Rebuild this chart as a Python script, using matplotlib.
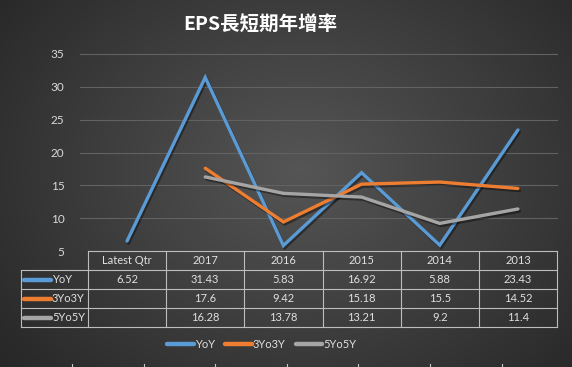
import numpy as np
import matplotlib
matplotlib.use("Agg")
import matplotlib.pyplot as plt
import matplotlib.patheffects as pe
from matplotlib.lines import Line2D

plt.rcParams['font.family'] = ['Lato', 'DejaVu Sans']

categories = ['Latest Qtr', '2017', '2016', '2015', '2014', '2013']
yoy = [6.52, 31.43, 5.83, 16.92, 5.88, 23.43]
yo3 = [None, 17.6, 9.42, 15.18, 15.5, 14.52]
yo5 = [None, 16.28, 13.78, 13.21, 9.2, 11.4]
series_names = ['YoY', '3Yo3Y', '5Yo5Y']
series_colors = ['#5B9BD5', '#ED7D31', '#A5A5A5']
yticks = [5, 10, 15, 20, 25, 30, 35]
title = 'EPS長短期年增率'

W, H = 572, 367
fig = plt.figure(figsize=(W / 100, H / 100), dpi=100)

# background: dark radial gradient
bg = fig.add_axes([0, 0, 1, 1])
yy, xx = np.mgrid[0:H, 0:W]
r = np.sqrt(((xx - 300) / 340.0) ** 2 + ((yy - 170) / 270.0) ** 2)
shade = np.clip(0.335 - 0.16 * r, 0.15, 0.335)
bg.imshow(np.dstack([shade] * 3), extent=[0, W, H, 0], aspect='auto')
bg.set_xlim(0, W)
bg.set_ylim(H, 0)
bg.axis('off')

# bottom strip ticks (worksheet behind)
for xt in np.arange(72, W, 71.6):
    bg.plot([xt, xt], [364, 367], color='#c8c8c8', lw=0.8)

# plot area
left, right, top, bottom = 88, 557, 54, 251
ax = fig.add_axes([left / W, 1 - bottom / H, (right - left) / W, (bottom - top) / H])
ax.patch.set_alpha(0)
n = len(categories)
x = np.arange(n)
ax.set_xlim(-0.5, n - 0.5)
ax.set_ylim(5, 35)
ax.set_yticks(yticks)
ax.tick_params(axis='y', length=0, pad=17, labelcolor='#d9d9d9', labelsize=8.5)
ax.set_xticks([])
for s in ax.spines.values():
    s.set_visible(False)
xl = -0.5 - 8 / ((right - left) / n)
for t in yticks[1:]:
    ax.plot([xl, n - 0.5], [t, t], color='#626262', lw=0.8, clip_on=False, zorder=1)

shadow = [pe.SimpleLineShadow(offset=(1, -1.5), shadow_color='black', alpha=0.4), pe.Normal()]
for vals, c in zip([yoy, yo3, yo5], series_colors):
    v = np.array([np.nan if a is None else a for a in vals], dtype=float)
    ax.plot(x, v, color=c, lw=2.4, solid_capstyle='round', solid_joinstyle='miter',
            path_effects=shadow, zorder=3, clip_on=False)

# data table (pixel overlay)
ov = fig.add_axes([0, 0, 1, 1])
ov.set_xlim(0, W)
ov.set_ylim(H, 0)
ov.axis('off')
ov.patch.set_alpha(0)
gc = '#bdbdbd'
lab_left = 21
row_h = 19
hdr_top = bottom
rows_top = hdr_top + row_h
tbl_bot = rows_top + 3 * row_h
colw = (right - left) / n
ov.plot([left, right], [hdr_top, hdr_top], color=gc, lw=0.8)
for k in range(4):
    yk = rows_top + k * row_h
    ov.plot([lab_left, right], [yk, yk], color=gc, lw=0.8)
ov.plot([lab_left, lab_left], [rows_top, tbl_bot], color=gc, lw=0.8)
for k in range(n + 1):
    xk = left + k * colw
    ov.plot([xk, xk], [hdr_top, tbl_bot], color=gc, lw=0.8)
tc = '#e0e0e0'
for k, cat in enumerate(categories):
    ov.text(left + (k + 0.5) * colw, hdr_top + row_h / 2, cat, ha='center', va='center',
            color=tc, fontsize=8)
for ri, (vals, name, c) in enumerate(zip([yoy, yo3, yo5], series_names, series_colors)):
    yc = rows_top + (ri + 0.5) * row_h
    ov.plot([24, 51], [yc, yc], color=c, lw=3.2, solid_capstyle='round')
    ov.text(52, yc, name, ha='left', va='center', color=tc, fontsize=8)
    for k, v in enumerate(vals):
        if v is not None:
            ov.text(left + (k + 0.5) * colw, yc, f'{v:g}', ha='center', va='center',
                    color=tc, fontsize=8)

# legend
handles = [Line2D([], [], color=c, lw=3.2, solid_capstyle='round') for c in series_colors]
fig.legend(handles, series_names, loc='center', bbox_to_anchor=(262 / W, 1 - 344 / H),
           ncol=3, frameon=False, fontsize=8, labelcolor=tc, handlelength=2.4,
           handletextpad=0.1, columnspacing=0.9)

fig.text(260 / W, 1 - 25 / H, title, ha='center', va='center', color='white',
         fontsize=14, fontweight='bold', family=['Noto Sans CJK TC', 'DejaVu Sans'])

fig.savefig('out.png', dpi=100)
